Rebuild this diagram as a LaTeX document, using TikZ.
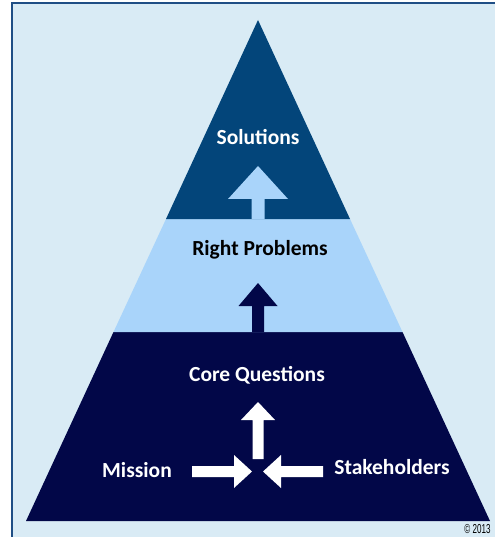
\documentclass[tikz,border=0pt]{standalone}
\usepackage{fontspec}
\setmainfont{Carlito}
\newfontfamily\narrowfont[FakeStretch=0.62]{Liberation Sans}

\definecolor{skybg}{HTML}{D9EBF5}
\definecolor{frameblue}{HTML}{1F4E85}
\definecolor{topblue}{HTML}{03457A}
\definecolor{midblue}{HTML}{A9D4FA}
\definecolor{navy}{HTML}{020748}

\begin{document}
\begin{tikzpicture}[x=1pt,y=-1pt,
    lbl/.style={font=\bfseries\fontsize{21.5}{26}\selectfont,inner sep=0pt},
    whitelbl/.style={lbl,text=white}]
    \useasboundingbox (0,0) rectangle (495,537);
    \fill[skybg] (12,3) rectangle (495,537);
    \draw[frameblue,line width=1.5pt] (12,537)--(12,3)--(495,3);

    % pyramid bands
    \fill[navy] (26,521)--(490,521)--(402.5,332)--(113.5,332)--cycle;
    \fill[midblue] (113.5,332)--(402.5,332)--(350,219)--(166,219)--cycle;
    \fill[topblue] (166,219)--(350,219)--(258,20)--cycle;

    % block arrows
    \fill[midblue] (251.5,219)--(251.5,199)--(228,199)--(258,166)--(288,199)--(264.5,199)--(264.5,219)--cycle;
    \fill[navy] (252,332)--(252,306)--(238.5,306)--(258,283)--(277.5,306)--(264,306)--(264,332)--cycle;
    \fill[white] (252.5,459)--(252.5,420)--(241,420)--(258,402)--(275,420)--(263.5,420)--(263.5,459)--cycle;
    \fill[white] (192,466)--(234,466)--(234,455)--(252,471.5)--(234,488)--(234,477)--(192,477)--cycle;
    \fill[white] (323,466)--(281,466)--(281,455)--(263,471.5)--(281,488)--(281,477)--(323,477)--cycle;

    \node[whitelbl] (sol) at (258,137) {Solutions};
    \node[lbl] (rp) at (260,250) {Right Problems};
    \node[whitelbl] (cq) at (257,375) {Core Questions};
    \node[whitelbl] (mis) at (137,470) {Mission};
    \node[whitelbl] (stk) at (392,467) {Stakeholders};
    \node[font=\narrowfont\fontsize{13}{15}\selectfont,inner sep=0pt] (copy) at (477.5,529) {© 2013};
\end{tikzpicture}
\end{document}
